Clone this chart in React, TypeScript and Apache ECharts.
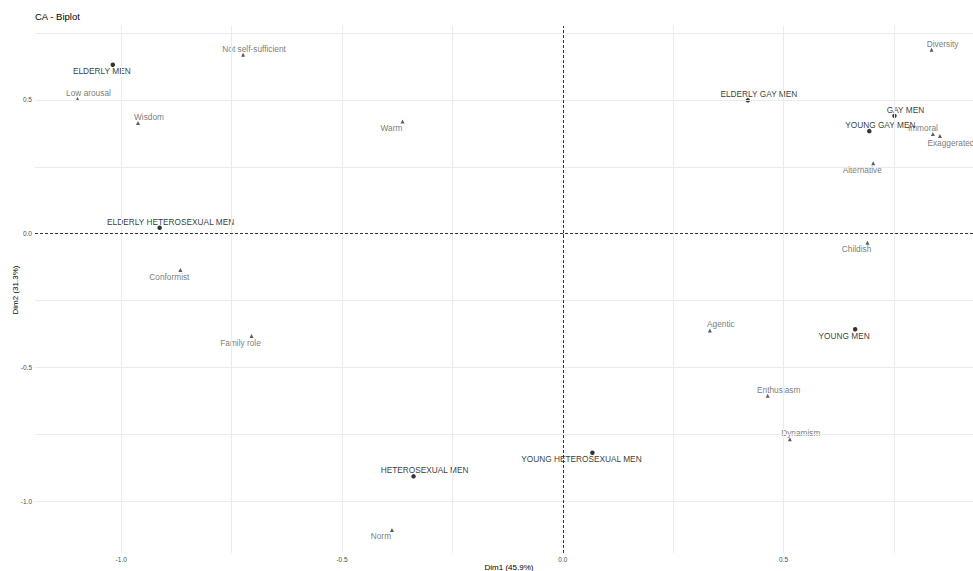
import React, { useEffect, useRef } from "react";
import * as echarts from "echarts";

const FONT = "'Liberation Sans', Arial, Helvetica, sans-serif";

// Row points (groups)
const rowNames = [
  "ELDERLY MEN",
  "ELDERLY HETEROSEXUAL MEN",
  "ELDERLY GAY MEN",
  "GAY MEN",
  "YOUNG GAY MEN",
  "YOUNG MEN",
  "YOUNG HETEROSEXUAL MEN",
  "HETEROSEXUAL MEN",
];
const rowDim1 = [-1.019, -0.913, 0.419, 0.751, 0.694, 0.662, 0.067, -0.338];
const rowDim2 = [0.631, 0.022, 0.498, 0.44, 0.383, -0.357, -0.818, -0.906];
const rowLabelSide = ["sw", "ne", "ne", "ne", "ne", "sw", "sw", "ne"];

// Column points (attributes)
const colNames = [
  "Not self-sufficient",
  "Low arousal",
  "Wisdom",
  "Warm",
  "Conformist",
  "Family role",
  "Norm",
  "Diversity",
  "Immoral",
  "Exaggerated",
  "Alternative",
  "Childish",
  "Agentic",
  "Enthusiasm",
  "Dynamism",
];
const colDim1 = [-0.724, -1.099, -0.962, -0.363, -0.866, -0.705, -0.387, 0.835, 0.838, 0.854, 0.703, 0.69, 0.333, 0.464, 0.514];
const colDim2 = [0.668, 0.503, 0.413, 0.419, -0.136, -0.382, -1.106, 0.687, 0.372, 0.365, 0.263, -0.034, -0.361, -0.605, -0.768];
const colLabelSide = ["ne", "ne", "ne", "sw", "sw", "sw", "sw", "ne", "nw", "se", "sw", "sw", "ne", "ne", "ne"];

// Axes
const xTicks = [-1.0, -0.5, 0.0, 0.5];
const yTicks = [-1.0, -0.5, 0.0, 0.5];
const xGrid = [-1.0, -0.75, -0.5, -0.25, 0.25, 0.5, 0.75];
const yGrid = [-1.0, -0.75, -0.5, -0.25, 0.25, 0.5, 0.75];
const X_MIN = -1.1952;
const X_MAX = 0.9515;
const Y_MIN = -1.1923;
const Y_MAX = 0.7756;

const sideOffset: Record<string, number[]> = {
  ne: [11, -6],
  sw: [-11, 6.5],
  nw: [-10, -6],
  se: [11, 7],
};

export default function App() {
  const ref = useRef<HTMLDivElement>(null);
  useEffect(() => {
    if (!ref.current) return;
    const chart = echarts.init(ref.current, null, { renderer: "svg" });

    const rowData = rowNames.map((n, i) => ({
      name: n,
      value: [rowDim1[i], rowDim2[i]],
      label: { offset: sideOffset[rowLabelSide[i]] },
    }));
    const colData = colNames.map((n, i) => ({
      name: n,
      value: [colDim1[i], colDim2[i]],
      label: { offset: sideOffset[colLabelSide[i]] },
    }));

    const gridLines = [
      ...xGrid.map((v) => ({ xAxis: v })),
      ...yGrid.map((v) => ({ yAxis: v })),
    ];

    const option: any = {
      animation: false,
      backgroundColor: "#ffffff",
      grid: { left: 35, top: 26, width: 948, height: 527 },
      xAxis: {
        type: "value",
        min: X_MIN,
        max: X_MAX,
        axisLine: { show: false },
        splitLine: { show: false },
        axisTick: { show: true, customValues: xTicks, length: 2, lineStyle: { color: "#333333", width: 0.8 } },
        axisLabel: {
          customValues: xTicks,
          formatter: (v: number) => v.toFixed(1),
          fontSize: 6.5,
          color: "#4d4d4d",
          margin: 3,
          fontFamily: FONT,
        },
      },
      yAxis: {
        type: "value",
        min: Y_MIN,
        max: Y_MAX,
        axisLine: { show: false },
        splitLine: { show: false },
        axisTick: { show: true, customValues: yTicks, length: 2, lineStyle: { color: "#333333", width: 0.8 } },
        axisLabel: {
          customValues: yTicks,
          formatter: (v: number) => v.toFixed(1),
          fontSize: 6.5,
          color: "#4d4d4d",
          margin: 3,
          fontFamily: FONT,
        },
      },
      graphic: [
        {
          type: "text",
          left: 35,
          top: 11,
          style: { text: "CA - Biplot", fontSize: 9.5, fill: "#000000", fontFamily: FONT },
        },
        {
          type: "text",
          x: 509,
          y: 567,
          style: {
            text: "Dim1 (45.9%)",
            fontSize: 8,
            fill: "#000000",
            fontFamily: FONT,
            align: "center",
            verticalAlign: "middle",
          },
        },
        {
          type: "text",
          x: 15,
          y: 290,
          rotation: Math.PI / 2,
          style: {
            text: "Dim2 (31.3%)",
            fontSize: 8,
            fill: "#000000",
            fontFamily: FONT,
            align: "center",
            verticalAlign: "middle",
          },
        },
      ],
      series: [
        {
          type: "scatter",
          name: "grid",
          data: [],
          z: 1,
          silent: true,
          markLine: {
            silent: true,
            symbol: ["none", "none"],
            label: { show: false },
            lineStyle: { color: "#ebebeb", width: 1, type: "solid" },
            data: gridLines,
          },
        },
        {
          type: "scatter",
          name: "zero",
          data: [],
          z: 2,
          silent: true,
          markLine: {
            silent: true,
            symbol: ["none", "none"],
            label: { show: false },
            lineStyle: { color: "#333333", width: 1, type: [3, 2] },
            data: [{ xAxis: 0 }, { yAxis: 0 }],
          },
        },
        {
          type: "scatter",
          name: "Columns",
          z: 3,
          symbol: "triangle",
          symbolSize: 4,
          itemStyle: { color: "#333333" },
          label: {
            show: true,
            position: "inside",
            formatter: (p: any) => p.name,
            fontSize: 8.3,
            color: "#555555",
            fontFamily: FONT,
          },
          data: colData,
        },
        {
          type: "scatter",
          name: "Rows",
          z: 4,
          symbol: "circle",
          symbolSize: 4.5,
          itemStyle: { color: "#000000" },
          label: {
            show: true,
            position: "inside",
            formatter: (p: any) => p.name,
            fontSize: 8.3,
            color: "#000000",
            fontFamily: FONT,
          },
          data: rowData,
        },
      ],
    };
    chart.setOption(option);
    return () => chart.dispose();
  }, []);

  return (
    <div
      style={{
        position: "absolute",
        left: 0,
        top: 0,
        width: 973,
        height: 571,
        overflow: "hidden",
        background: "#fff",
      }}
    >
      <div ref={ref} style={{ width: 1000, height: 571 }} />
    </div>
  );
}
